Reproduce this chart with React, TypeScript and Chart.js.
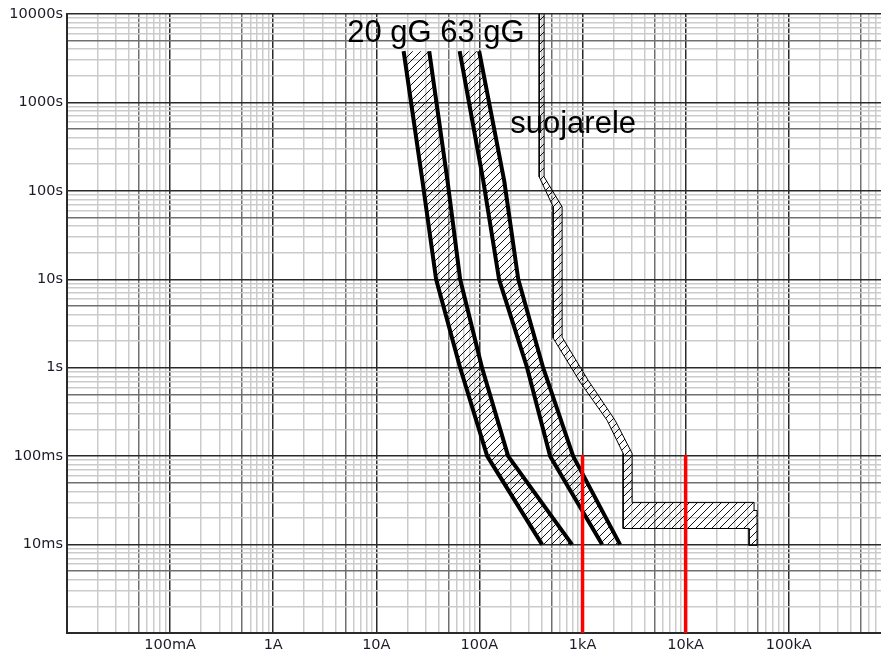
import React, { useEffect, useRef } from 'react';
import { Chart, registerables } from 'chart.js';

Chart.register(...registerables);

// ---- Data (current in A, time in s) ----
const fuseTimes = [3800, 130, 10, 1, 0.1, 0.01];
const fuse20Min = [18.4, 28, 38, 65, 119, 406];
const fuse20Max = [32.6, 49, 65, 106, 190, 793];
const fuse63Min = [64.3, 109, 155, 290, 485, 1550];
const fuse63Max = [99.4, 174, 238, 415, 811, 2315];

const relayCurrents = [380, 380, 519, 519, 948, 1732, 2476, 2476, 41240, 41240, 49300, 49300, 46110, 46110, 3027, 3027, 2071, 1133, 634, 634, 424, 424];
const relayTimes = [10000, 144, 66, 2.16, 0.686, 0.254, 0.1076, 0.0152, 0.0152, 0.0098, 0.0098, 0.0243, 0.0243, 0.03, 0.03, 0.1076, 0.254, 0.722, 2.215, 66, 144, 10000];

const markerCurrents = [1000, 10000];
const markerTimes = [0.1, 0.001];

const xTickValues = [0.1, 1, 10, 100, 1000, 10000, 100000];
const xTickLabels = ['100mA', '1A', '10A', '100A', '1kA', '10kA', '100kA'];
const yTickValues = [0.01, 0.1, 1, 10, 100, 1000, 10000];
const yTickLabels = ['10ms', '100ms', '1s', '10s', '100s', '1000s', '10000s'];

const curveLabels = ['20 gG 63 gG', 'suojarele'];
const curveLabelCurrents = [5.22, 199];
const curveLabelTimes = [4860, 453];

const X_MIN = 0.01;
const X_MAX = 785000;
const Y_MIN = 0.001;
const Y_MAX = 10000;

function logTicks(min: number, max: number) {
  const out: { value: number }[] = [];
  const e0 = Math.floor(Math.log10(min) + 1e-9);
  const e1 = Math.ceil(Math.log10(max) + 1e-9);
  for (let e = e0; e <= e1; e++) {
    for (let m = 1; m <= 9; m++) {
      const v = Number((m * Math.pow(10, e)).toPrecision(6));
      if (v >= min * 0.999999 && v <= max * 1.000001) out.push({ value: v });
    }
  }
  return out;
}

function mantissa(v: number) {
  const e = Math.floor(Math.log10(v) + 1e-9);
  return Math.round(v / Math.pow(10, e));
}

function gridColor(v: number) {
  const m = mantissa(v);
  if (m === 1) return '#2a2a2a';
  if (m === 5) return '#707070';
  return '#cbcbcb';
}

function labelFor(v: number, vals: number[], labels: string[]) {
  for (let i = 0; i < vals.length; i++) {
    if (Math.abs(v / vals[i] - 1) < 1e-6) return labels[i];
  }
  return '';
}

function pts(xs: number[], ys: number[]) {
  return xs.map((x, i) => ({ x, y: ys[i] }));
}

function band(minI: number[], maxI: number[], times: number[]) {
  const a = pts(minI, times);
  const b = pts(maxI, times).reverse();
  return a.concat(b);
}

function makeHatch() {
  const c = document.createElement('canvas');
  c.width = 8;
  c.height = 8;
  const g = c.getContext('2d')!;
  g.strokeStyle = '#111';
  g.lineWidth = 1;
  g.beginPath();
  g.moveTo(-1, 9);
  g.lineTo(9, -1);
  g.moveTo(-1, 1);
  g.lineTo(1, -1);
  g.moveTo(7, 9);
  g.lineTo(9, 7);
  g.stroke();
  return g.createPattern(c, 'repeat')!;
}

const labelPlugin = {
  id: 'curveLabels',
  afterDatasetsDraw(chart: any) {
    const { ctx, scales } = chart;
    const x = scales.x;
    const y = scales.y;
    ctx.save();
    ctx.font = '31px "Liberation Sans", Arial, sans-serif';
    ctx.fillStyle = '#000';
    ctx.textAlign = 'left';
    ctx.textBaseline = 'alphabetic';
    curveLabels.forEach((t, i) => {
      ctx.fillText(t, x.getPixelForValue(curveLabelCurrents[i]), y.getPixelForValue(curveLabelTimes[i]));
    });
    ctx.restore();
  },
};

export default function App() {
  const ref = useRef<HTMLCanvasElement>(null);

  useEffect(() => {
    if (!ref.current) return;
    const hatch = makeHatch();
    const lineDs = (data: any[], color: string, width: number) => ({
      type: 'line' as const,
      data,
      borderColor: color,
      borderWidth: width,
      pointRadius: 0,
      fill: false,
      tension: 0,
      borderJoinStyle: 'round' as const,
      borderCapStyle: 'butt' as const,
    });
    const fillDs = (data: any[], border: number) => ({
      type: 'line' as const,
      data,
      borderColor: '#000',
      borderWidth: border,
      backgroundColor: hatch,
      pointRadius: 0,
      fill: 'shape',
      tension: 0,
    });

    const tickFont = { family: '"DejaVu Sans", sans-serif', size: 14.5 };
    const gridOpts = {
      color: (c: any) => gridColor(c.tick ? c.tick.value : 1),
      lineWidth: 1.5,
      drawTicks: false,
    };

    const chart = new Chart(ref.current, {
      type: 'line',
      data: {
        datasets: [
          lineDs(pts([markerCurrents[0], markerCurrents[0]], markerTimes), '#ff0000', 3.5),
          lineDs(pts([markerCurrents[1], markerCurrents[1]], markerTimes), '#ff0000', 3.5),
          lineDs(pts(fuse20Min, fuseTimes), '#000', 4),
          lineDs(pts(fuse20Max, fuseTimes), '#000', 4),
          lineDs(pts(fuse63Min, fuseTimes), '#000', 4),
          lineDs(pts(fuse63Max, fuseTimes), '#000', 4),
          fillDs(band(fuse20Min, fuse20Max, fuseTimes), 0),
          fillDs(band(fuse63Min, fuse63Max, fuseTimes), 0),
          fillDs(pts(relayCurrents, relayTimes), 1),
        ] as any,
      },
      options: {
        responsive: false,
        animation: false,
        events: [],
        layout: { padding: { top: 14, left: 0, right: 0, bottom: 0 } },
        plugins: {
          legend: { display: false },
          tooltip: { enabled: false },
        },
        elements: { point: { radius: 0 } },
        scales: {
          x: {
            type: 'logarithmic',
            min: X_MIN,
            max: X_MAX,
            position: 'bottom',
            afterBuildTicks: (s: any) => {
              s.ticks = logTicks(X_MIN, X_MAX);
            },
            afterFit: (s: any) => {
              s.height = 20;
            },
            ticks: {
              autoSkip: false,
              maxRotation: 0,
              minRotation: 0,
              padding: 4,
              color: '#1c1c28',
              font: tickFont,
              callback: (v: any) => labelFor(Number(v), xTickValues, xTickLabels),
            },
            grid: gridOpts,
            border: { display: true, color: '#2a2a2a', width: 2 },
          },
          y: {
            type: 'logarithmic',
            min: Y_MIN,
            max: Y_MAX,
            position: 'left',
            afterBuildTicks: (s: any) => {
              s.ticks = logTicks(Y_MIN, Y_MAX);
            },
            afterFit: (s: any) => {
              s.width = 67;
            },
            ticks: {
              autoSkip: false,
              padding: 4,
              color: '#1c1c28',
              font: tickFont,
              callback: (v: any) => labelFor(Number(v), yTickValues, yTickLabels),
            },
            grid: gridOpts,
            border: { display: true, color: '#2a2a2a', width: 2 },
          },
        },
      } as any,
      plugins: [labelPlugin],
    });
    return () => chart.destroy();
  }, []);

  return (
    <canvas
      ref={ref}
      width={881}
      height={653}
      style={{ position: 'fixed', left: 0, top: 0, display: 'block', background: '#fff' }}
    />
  );
}
